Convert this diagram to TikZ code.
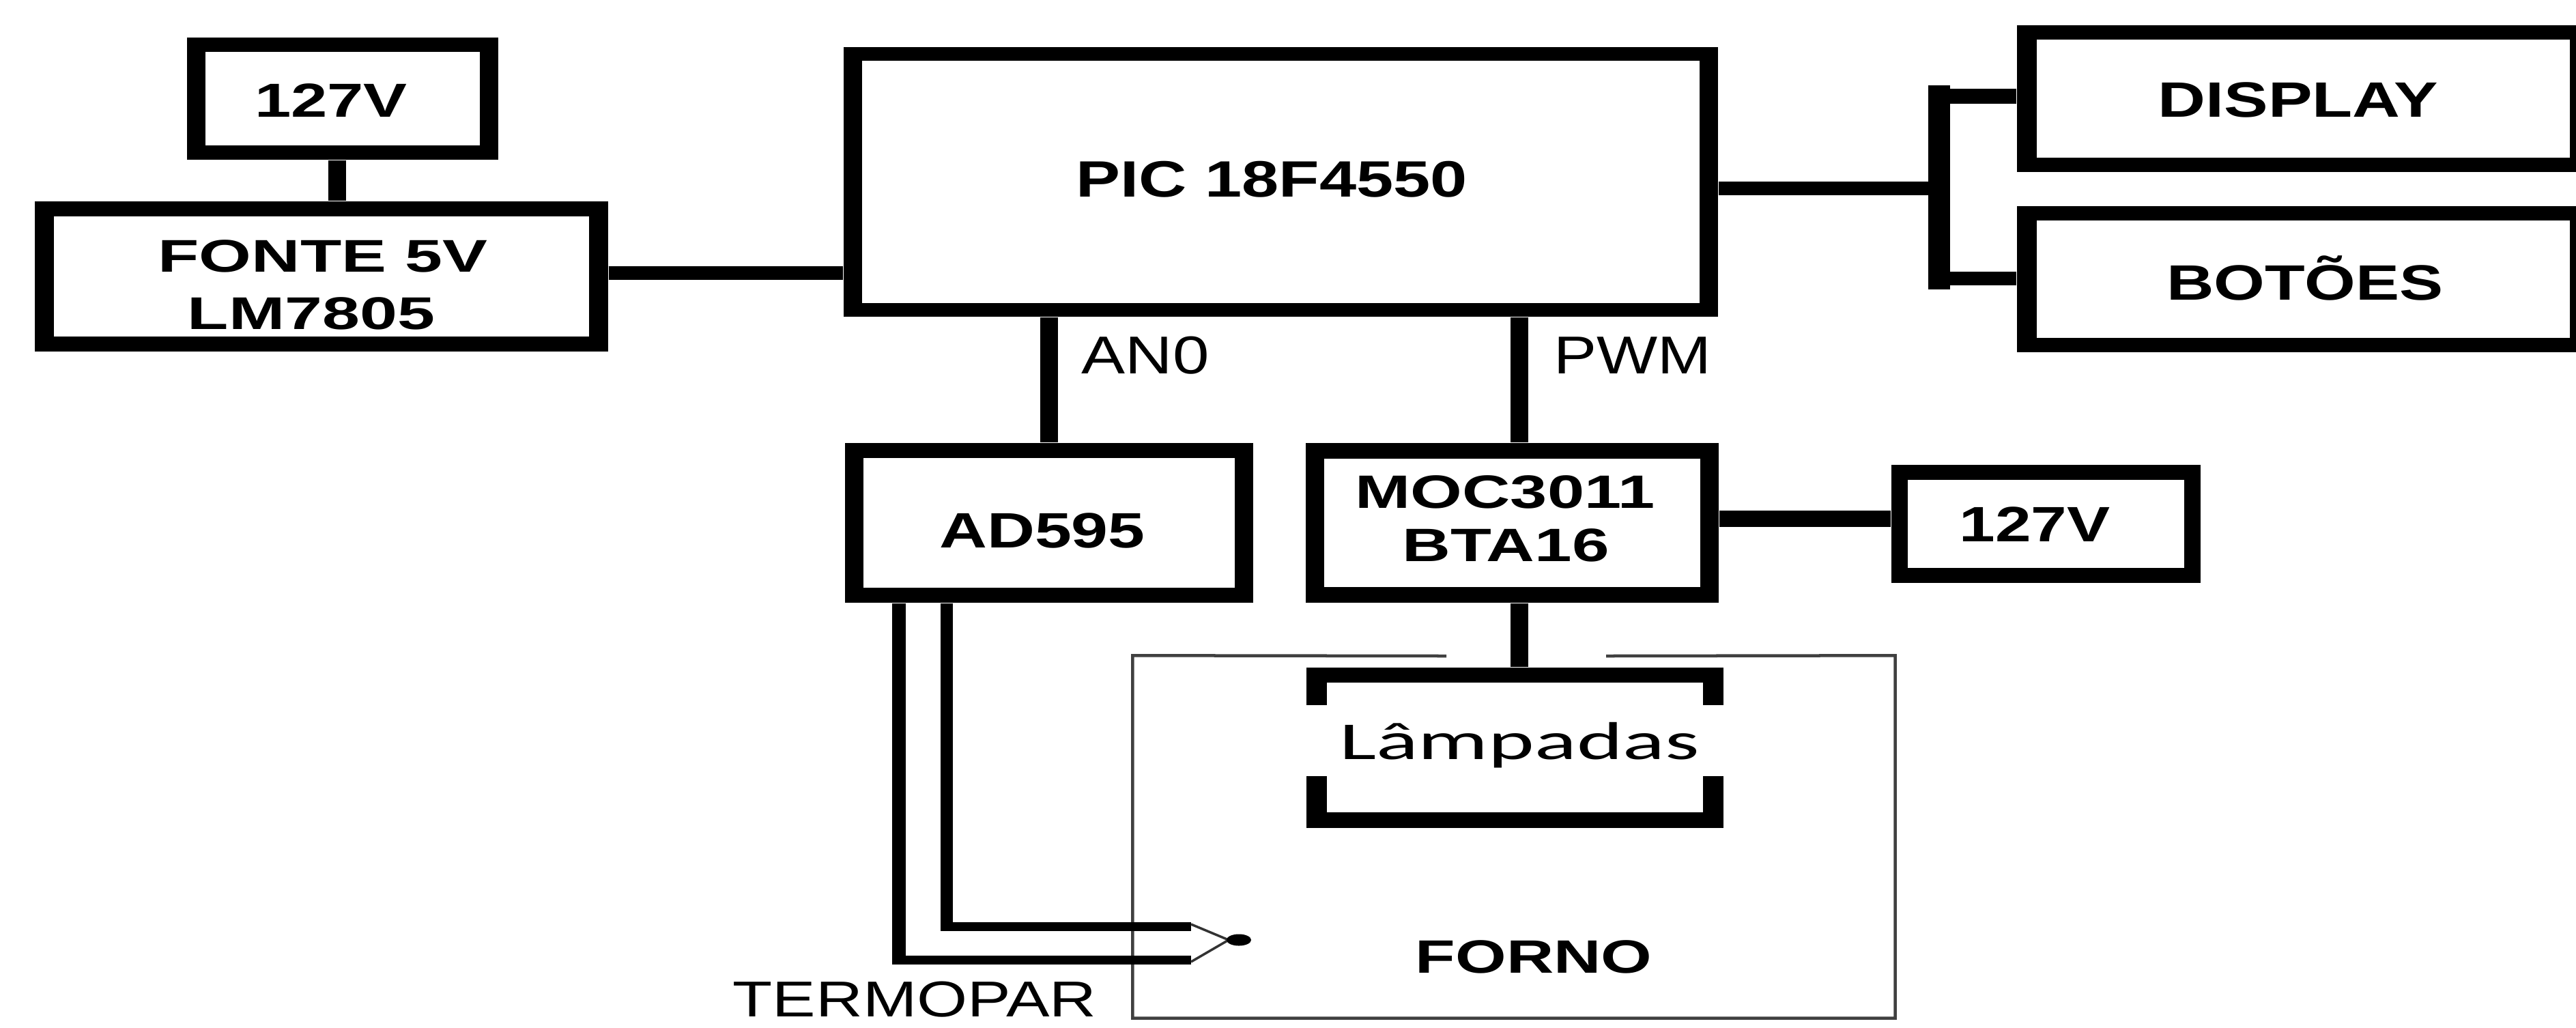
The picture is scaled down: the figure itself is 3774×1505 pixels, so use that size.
\documentclass[tikz,border=0pt]{standalone}
\usepackage{fontspec}
\usepackage{graphicx}
\setmainfont{Liberation Sans}
\newfontfamily\calib{Carlito}
\usetikzlibrary{fit,calc}

\newcommand\blkbox[7]{%
  \fill[black] (#2,#3) rectangle (#4,#5);
  \fill[white] ({#2+#6},{#3+#7}) rectangle ({#4-#6},{#5-#7});
  \node[fit={(#2,#3) (#4,#5)}, inner sep=0pt] (#1) {};
}
\newcommand\T[3]{\fontsize{#1}{#1}\selectfont\scalebox{#2}[1]{#3}}

\begin{document}
\begin{tikzpicture}[x=0.01cm,y=-0.01cm,
  vw/.style={line width=0.26cm},
  hw/.style={line width=0.2cm},
  lbl/.style={inner sep=0pt, anchor=base, font=\bfseries},
  lblr/.style={inner sep=0pt, anchor=base},
  ovenline/.style={line width=0.045cm, draw=black!75}]

\fill[white] (0,0) rectangle (3774,1505);
\useasboundingbox (0,0) rectangle (3774,1505);

% boxes
\blkbox{src}{274}{55}{730}{234}{27}{21}
\blkbox{fonte}{51}{295}{891}{515}{28}{22}
\blkbox{pic}{1236}{69}{2517}{464}{27}{20}
\blkbox{display}{2955}{37}{3794}{252}{29}{21}
\blkbox{botoes}{2955}{302}{3794}{516}{29}{21}
\blkbox{ad}{1238}{649}{1836}{883}{27}{22}
\blkbox{moc}{1913}{649}{2518}{883}{27}{23}
\blkbox{acin}{2771}{681}{3224}{854}{24}{22}

% lamp bracket
\fill (1914,978) rectangle (2525,1000);
\fill (1914,1000) rectangle (1944,1033);
\fill (2495,1000) rectangle (2525,1033);
\fill (1914,1137) rectangle (1944,1190);
\fill (2495,1137) rectangle (2525,1190);
\fill (1914,1190) rectangle (2525,1213);
\node[fit={(1914,978) (2525,1213)}, inner sep=0pt] (lamp) {};

% oven
\node[fit={(1660,961) (2776,1491)}, inner sep=0pt] (forno) {};
\coordinate (fg1) at (2119,961);
\coordinate (fg2) at (2353,961);
\draw[ovenline] (fg1) -- (forno.north west) -- (forno.south west) -- (forno.south east) -- (forno.north east) -- (fg2);

% helper coordinates
\coordinate (xa) at (494,0);
\coordinate (xan) at (1537,0);
\coordinate (xpwm) at (2226,0);
\coordinate (yfp) at (0,400);
\coordinate (ymoc) at (0,760);
\coordinate (brm) at (2841,276);
\coordinate (brt) at (2841,141);
\coordinate (brb) at (2841,408);

% connectors
\draw[vw] (src.south -| xa) -- (fonte.north -| xa);
\draw[hw] (fonte.east |- yfp) -- (pic.west |- yfp);
\draw[vw] (pic.south -| xan) -- (ad.north -| xan);
\draw[vw] (pic.south -| xpwm) -- (moc.north -| xpwm);
\draw[line width=0.24cm] (moc.east |- ymoc) -- (acin.west |- ymoc);
\draw[vw] (moc.south -| xpwm) -- (lamp.north -| xpwm);
\draw[hw] (pic.east |- brm) -- (brm);
\draw[line width=0.32cm, line cap=rect] (brt) -- (brb);
\draw[line width=0.22cm] (brt) -- (display.west |- brt);
\draw[hw] (brb) -- (botoes.west |- brb);

% thermocouple
\coordinate (xo) at (1317,0);
\coordinate (xi) at (1387,0);
\coordinate (w1e) at (1745,1406);
\coordinate (w2e) at (1745,1357);
\coordinate (tj) at (1800,1377);
\coordinate (tip) at (1815,1377);
\draw[line width=0.2cm] (ad.south -| xo) -- ($(xo |- w1e)+(0,6.5)$);
\draw[line width=0.13cm] ($(xo |- w1e)+(-10,0)$) -- (w1e);
\draw[line width=0.18cm] (ad.south -| xi) -- ($(xi |- w2e)+(0,6.5)$);
\draw[line width=0.13cm] ($(xi |- w2e)+(-9,0)$) -- (w2e);
\draw[line width=0.035cm, black!80] ($(w2e)+(0,-3)$) -- (tj) -- ($(w1e)+(0,3)$);
\fill (tip) ellipse [x radius=0.18cm, y radius=0.085cm];

% labels
\node[lbl] (t1) at (485,171) {\T{19.9}{1.37}{127V}};
\node[lbl] (t2) at (473,398) {\T{19.1}{1.47}{FONTE 5V}};
\node[lbl] (t3) at (456,482) {\T{19.1}{1.47}{LM7805}};
\node[lbl] (t4) at (1863,288) {\T{21.3}{1.30}{PIC 18F4550}};
\node[lblr, anchor=base west] (t5) at (1584,547) {\T{22.2}{1.23}{AN0}};
\node[lblr, anchor=base west] (t6) at (2276,547) {\T{22.2}{1.21}{PWM}};
\node[lbl] (t7) at (3367,171) {\T{20.7}{1.33}{DISPLAY}};
\node[lbl] (t8) at (3377,439) {\T{20.7}{1.32}{BOTÕES}};
\node[lbl] (t9) at (1527,802) {\T{20.7}{1.33}{AD595}};
\node[lbl] (t10) at (2205,744) {\T{19.5}{1.42}{MOC3011}};
\node[lbl] (t11) at (2206,822) {\T{19.5}{1.43}{BTA16}};
\node[lbl] (t12) at (2981,793) {\T{20.7}{1.30}{127V}};
\node[lblr] (t13) at (2226,1112) {\calib\T{22.2}{1.65}{Lâmpadas}};
\node[lbl] (t14) at (2247,1425) {\T{19.5}{1.40}{FORNO}};
\node[lblr] (t15) at (1340,1489) {\T{21}{1.29}{TERMOPAR}};
\end{tikzpicture}
\end{document}
